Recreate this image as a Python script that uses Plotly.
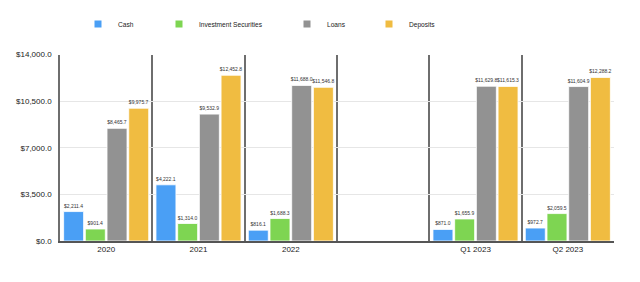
import plotly.graph_objects as go

categories = ["2020", "2021", "2022", " ", "Q1 2023", "Q2 2023"]
cash = [2211.4, 4222.1, 816.1, None, 871.0, 972.7]
investment = [901.4, 1314.0, 1688.3, None, 1655.9, 2059.5]
loans = [8465.7, 9532.9, 11688.0, None, 11629.8, 11604.9]
deposits = [9975.7, 12452.8, 11546.8, None, 11615.3, 12288.2]

series = [
    ("Cash", cash, "#4a9ff5", "legend"),
    ("Investment Securities", investment, "#7ed552", "legend2"),
    ("Loans", loans, "#929292", "legend3"),
    ("Deposits", deposits, "#f0bc41", "legend4"),
]

FONT = "Liberation Sans, Arial, Helvetica, sans-serif"

fig = go.Figure()
for name, vals, color, leg in series:
    fig.add_trace(go.Bar(
        name=name, x=categories, y=vals,
        marker=dict(color=color, line=dict(color="white", width=0.8)),
        text=["" if v is None else f"${v:,.1f}" for v in vals],
        textposition="outside", constraintext="none", cliponaxis=False,
        textfont=dict(size=5, color="#333333", family=FONT),
        showlegend=False,
    ))
    # legend entry with a small square swatch
    fig.add_trace(go.Scatter(
        name=name, x=[None], y=[None], mode="markers",
        marker=dict(symbol="square", size=7, color=color),
        legend=leg, showlegend=True, hoverinfo="skip",
    ))

leg_common = dict(orientation="h", xref="container", yref="container",
                  yanchor="middle", y=0.915, xanchor="left",
                  font=dict(size=6.6, color="#222222", family=FONT),
                  bgcolor="rgba(0,0,0,0)", itemwidth=30, itemsizing="trace")
text_starts = [118, 199, 327, 409]
legend_layout = {}
for i, key in enumerate(["legend", "legend2", "legend3", "legend4"]):
    legend_layout[key] = dict(leg_common, x=(text_starts[i] - 40) / 640)

fig.update_layout(
    width=640, height=282,
    margin=dict(l=60, r=26, t=47, b=41),
    paper_bgcolor="white", plot_bgcolor="white",
    barmode="group", bargap=0.06, bargroupgap=0.08,
    font=dict(family=FONT, color="#333333"),
    showlegend=True,
    **legend_layout,
)
fig.update_xaxes(
    type="category", categoryorder="array", categoryarray=categories,
    tickson="boundaries", showgrid=True, gridcolor="#6e6e6e", gridwidth=1.5,
    showline=True, linecolor="#555555", linewidth=1.5,
    ticks="", tickfont=dict(size=8, color="#222222", family=FONT),
    range=[-0.5, 5.5],
)
fig.update_yaxes(
    range=[0, 14000], dtick=3500, tickformat="$,.1f",
    showgrid=True, gridcolor="#e6e6e6", gridwidth=1,
    showline=True, linecolor="#6e6e6e", linewidth=1.5,
    zeroline=False, ticks="", ticklabelstandoff=5,
    tickfont=dict(size=8, color="#222222", family=FONT),
)
fig.write_html("out.html")
